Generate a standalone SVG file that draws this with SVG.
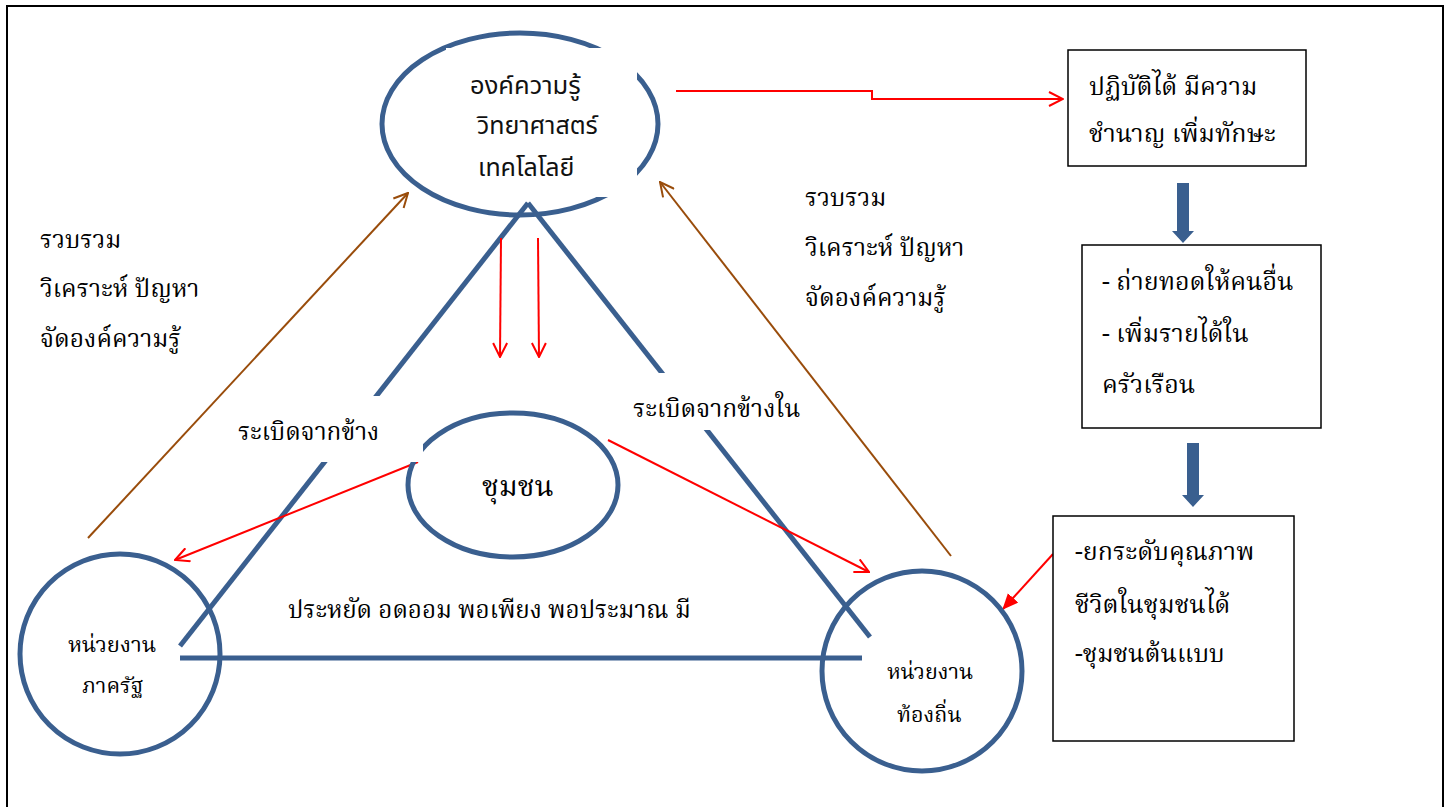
<svg xmlns="http://www.w3.org/2000/svg" width="1451" height="807" viewBox="0 0 1451 807">
<style>
.th{font-family:"Noto Serif Thai","Norasi","Tlwg Typo","Noto Sans Thai","DejaVu Serif",serif;fill:#000;}
.ts{font-family:"Noto Sans Thai","Loma","Garuda","DejaVu Sans",sans-serif;fill:#111;}
.blue{fill:none;stroke:#3A5F8F;stroke-width:5;}
.red{fill:none;stroke:#FF0000;stroke-width:2;}
.brown{fill:none;stroke:#994C0B;stroke-width:2;}
.box{fill:#fff;stroke:#000;stroke-width:1.5;}
.wb{fill:#fff;stroke:none;}
</style>
<defs>
<marker id="ar" viewBox="0 0 16 16" refX="15" refY="8" markerWidth="16" markerHeight="16" markerUnits="userSpaceOnUse" orient="auto"><path d="M1,1 L15,8 L1,15" fill="none" stroke="#FF0000" stroke-width="2"/></marker>
<marker id="ab" viewBox="0 0 16 16" refX="15" refY="8" markerWidth="16" markerHeight="16" markerUnits="userSpaceOnUse" orient="auto"><path d="M1,1 L15,8 L1,15" fill="none" stroke="#994C0B" stroke-width="2"/></marker>
<marker id="af" viewBox="0 0 16 16" refX="15" refY="8" markerWidth="16" markerHeight="16" markerUnits="userSpaceOnUse" orient="auto"><path d="M0,1 L16,8 L0,15 z" fill="#FF0000"/></marker>
</defs>
<rect x="0" y="0" width="1451" height="807" fill="#fff"/>
<rect x="7" y="6" width="1436" height="812" fill="none" stroke="#000" stroke-width="2"/>

<g id="connectors">
<path class="blue" d="M528,203 L180,646"/>
<path class="blue" d="M528,203 L870,637"/>
<path class="blue" d="M180,658 L862,658"/>
<path class="red" d="M676,91 L872,91 L872,99 L1063,99" marker-end="url(#ar)"/>
<path class="red" d="M501,238 L500,357" marker-end="url(#ar)"/>
<path class="red" d="M538,238 L539,357" marker-end="url(#ar)"/>
<path class="red" d="M418,462 L175,560" marker-end="url(#ar)"/>
<path class="red" d="M608,440 L869,572" marker-end="url(#ar)"/>
<path class="red" d="M1053,554 L1003,609" marker-end="url(#af)"/>
<path class="brown" d="M88,538 L408,193" marker-end="url(#ab)"/>
<path class="brown" d="M951,556 L660,182" marker-end="url(#ab)"/>
<polygon fill="#3A5F8F" points="1177,183 1189,183 1189,231 1194,231 1183,243 1172,231 1177,231"/>
<polygon fill="#3A5F8F" points="1187,443 1199,443 1199,495 1204,495 1193,507 1182,495 1187,495"/>
</g>

<g id="knowledge">
<ellipse class="blue" cx="520" cy="124" rx="138" ry="91"/>
<rect class="wb" x="446" y="48" width="191" height="149"/>
<text class="ts" font-size="25.5" x="470" y="94">องค์ความรู้</text>
<text class="ts" font-size="25" x="477" y="134">วิทยาศาสตร์</text>
<text class="ts" font-size="25" x="478" y="176">เทคโลโลยี</text>
</g>

<g id="community">
<ellipse class="blue" cx="513" cy="485" rx="105" ry="72"/>
<text class="th" font-size="29" x="482" y="496">ชุมชน</text>
</g>

<g id="label-outside">
<rect class="wb" x="230" y="396" width="193" height="66"/>
<text class="th" font-size="24.3" x="238" y="440">ระเบิดจากข้าง</text>
</g>
<g id="label-inside">
<rect class="wb" x="625" y="373" width="178" height="57"/>
<text class="th" font-size="24.5" x="633" y="417">ระเบิดจากข้างใน</text>
</g>

<g id="gov">
<circle class="blue" cx="120" cy="654" r="100"/>
<text class="th" font-size="22" x="68" y="652">หน่วยงาน</text>
<text class="th" font-size="21.5" x="82" y="693">ภาครัฐ</text>
</g>

<g id="local">
<circle class="blue" cx="922" cy="671" r="100"/>
<text class="th" font-size="21.5" x="887" y="679">หน่วยงาน</text>
<text class="th" font-size="21.5" x="897" y="722">ท้องถิ่น</text>
</g>

<g id="left-note">
<text class="th" font-size="24.6" x="40" y="248">รวบรวม</text>
<text class="th" font-size="24.6" x="40" y="297">วิเคราะห์ ปัญหา</text>
<text class="th" font-size="24.6" x="40" y="347">จัดองค์ความรู้</text>
</g>
<g id="right-note">
<text class="th" font-size="24.6" x="805" y="206">รวบรวม</text>
<text class="th" font-size="24.6" x="805" y="256">วิเคราะห์ ปัญหา</text>
<text class="th" font-size="24.6" x="805" y="306">จัดองค์ความรู้</text>
</g>

<g id="values">
<text class="th" font-size="24.2" x="288" y="618">ประหยัด อดออม พอเพียง พอประมาณ มี</text>
</g>

<g id="box-skill">
<rect class="box" x="1068" y="50" width="238" height="116"/>
<text class="th" font-size="25" x="1089" y="95">ปฏิบัติได้ มีความ</text>
<text class="th" font-size="25" x="1089" y="142">ชำนาญ เพิ่มทักษะ</text>
</g>
<g id="box-transfer">
<rect class="box" x="1082" y="245" width="239" height="183"/>
<text class="th" font-size="25" x="1102" y="290">- ถ่ายทอดให้คนอื่น</text>
<text class="th" font-size="25" x="1102" y="342">- เพิ่มรายได้ใน</text>
<text class="th" font-size="25" x="1102" y="393">ครัวเรือน</text>
</g>
<g id="box-quality">
<rect class="box" x="1053" y="516" width="241" height="225"/>
<text class="th" font-size="25" x="1075" y="560">-ยกระดับคุณภาพ</text>
<text class="th" font-size="25" x="1075" y="613">ชีวิตในชุมชนได้</text>
<text class="th" font-size="25" x="1075" y="662">-ชุมชนต้นแบบ</text>
</g>
</svg>
